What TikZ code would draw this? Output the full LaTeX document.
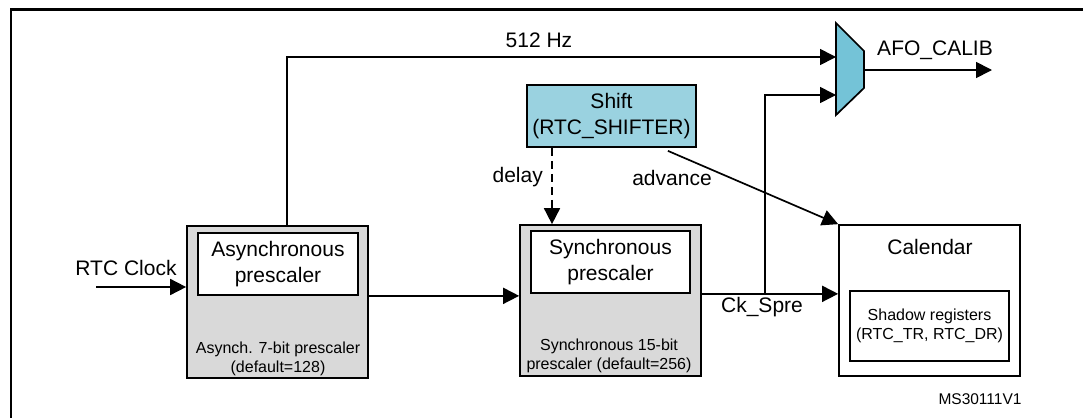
\documentclass[tikz,border=0pt]{standalone}
\usepackage{fontspec}
\setmainfont{Liberation Sans}
\usetikzlibrary{arrows.meta}
\definecolor{boxgray}{HTML}{D9D9D9}
\definecolor{shiftblue}{HTML}{9AD2E0}
\definecolor{muxblue}{HTML}{74C3D7}
\begin{document}
\begin{tikzpicture}[x=1pt,y=-1pt,
  bigfont/.style={font=\fontsize{21}{26}\selectfont},
  smallfont/.style={font=\fontsize{16}{19}\selectfont},
  outerbox/.style={draw, line width=1.7pt, fill=boxgray, inner sep=0pt},
  innerbox/.style={draw, line width=1.7pt, fill=white, inner sep=0pt, align=center, bigfont},
  lbl/.style={inner sep=0pt, bigfont},
  arr/.style={line width=1.7pt, -{Triangle[length=16pt,width=16pt]}},
  conn/.style={line width=1.7pt}
]
\useasboundingbox (0,0) rectangle (1083,418);
% frame
\draw[line width=3pt] (10,9) -- (1083,9);
\draw[line width=1.5pt] (11,9) -- (11,418);

% asynchronous prescaler
\node[outerbox, minimum width=181pt, minimum height=152pt] (async) at (277.5,302) {};
\node[innerbox, minimum width=160pt, minimum height=62pt] (asyncin) at (278,264) {Asynchronous\\prescaler};
\node[smallfont, align=center, inner sep=0pt] (asynctxt) at (278,359) {Asynch. 7-bit prescaler\\(default=128)};

% synchronous prescaler
\node[outerbox, minimum width=181pt, minimum height=151pt] (sync) at (610.5,300.5) {};
\node[innerbox, minimum width=159pt, minimum height=62pt] (syncin) at (610.5,262) {Synchronous\\prescaler};
\node[smallfont, align=center, inner sep=0pt] (synctxt) at (609,356) {Synchronous 15-bit\\prescaler (default=256)};

% shift
\node[draw, line width=1.7pt, fill=shiftblue, minimum width=169pt, minimum height=62pt, inner sep=0pt, align=center, bigfont] (shift) at (611.5,116) {Shift\\(RTC\_SHIFTER)};

% calendar
\node[draw, line width=1.7pt, fill=white, minimum width=181pt, minimum height=151pt, inner sep=0pt] (cal) at (929.5,300.5) {};
\node[lbl] (caltxt) at (930,247) {Calendar};
\node[draw, line width=1.7pt, fill=white, minimum width=159pt, minimum height=70pt, inner sep=0pt, align=center, smallfont] (calin) at (929.5,326) {Shadow registers\\(RTC\_TR, RTC\_DR)};

% mux
\draw[line width=1.7pt, fill=muxblue] (836,23) -- (864,51) -- (864,88) -- (836,115) -- cycle;
\coordinate (muxin1) at (836,57);
\coordinate (muxin2) at (836,95);
\coordinate (muxout) at (864,70);
\coordinate (afo) at (992,70);
\node[lbl] (afotxt) at (935,50) {AFO\_CALIB};
\draw[arr] (muxout) -- (afo);

% RTC clock input
\coordinate (clk) at (96,287);
\node[lbl] (clktxt) at (126,268) {RTC Clock};
\draw[arr] (clk) -- (clk -| async.west);

% async -> sync
\draw[arr] (asyncin.south -| async.east) -- (asyncin.south -| sync.west);

% 512 Hz
\draw[arr] ([xshift=9.5pt]async.north) |- (muxin1);
\node[lbl] (hz) at (539,40) {512 Hz};

% Ck_Spre
\draw[arr] (syncin.south -| sync.east) -- (syncin.south -| cal.west);
\coordinate (bx) at (765,0);
\draw[arr] (syncin.south -| bx) |- (muxin2);
\node[lbl] (ck) at (762,307) {Ck\_Spre};

% delay
\coordinate (dx) at (552,0);
\draw[arr, dash pattern=on 8pt off 5pt] (shift.south -| dx) -- (sync.north -| dx);
\node[lbl, anchor=east] (delaytxt) at (543,177) {delay};

% advance
\draw[arr] ([xshift=-29pt,yshift=-3pt]shift.south east) -- (cal.north west);
\node[lbl] (advtxt) at (672,178) {advance};

% id
\node[inner sep=0pt, font=\fontsize{15.5}{18}\selectfont] (msid) at (980,399) {MS30111V1};
\end{tikzpicture}
\end{document}
